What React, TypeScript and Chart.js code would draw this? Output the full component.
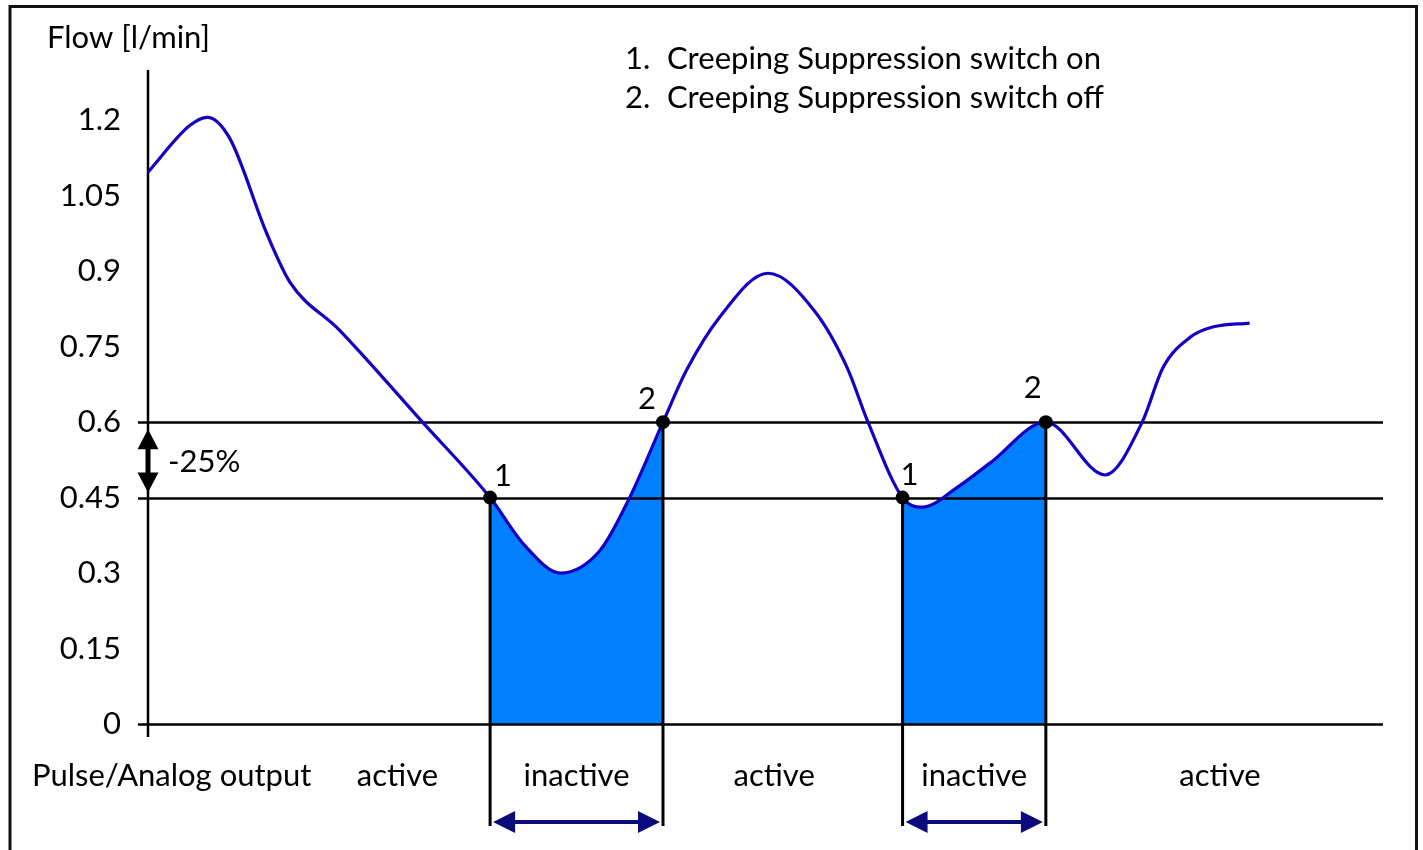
import React, { useEffect, useRef } from 'react';
import { Chart, registerables } from 'chart.js';

Chart.register(...registerables);

// ---- data ----
const timeValues = [0, 3.4, 4.8, 6.6, 9.6, 11.5, 15.5, 22.3, 27.7, 30.5, 33.4, 36.6, 38.9, 41.7, 43.6, 46.3, 50.2, 54.0, 56.6, 58.3, 61.1, 62.7, 65.5, 68.2, 72.7, 77.5, 80.5, 82.2, 84.4, 86.2, 89.2];
const flowValues = [1.097, 1.19, 1.206, 1.165, 0.976, 0.878, 0.783, 0.598, 0.45, 0.355, 0.3, 0.345, 0.445, 0.6, 0.703, 0.809, 0.896, 0.82, 0.709, 0.6, 0.45, 0.431, 0.47, 0.519, 0.6, 0.495, 0.6, 0.709, 0.769, 0.789, 0.797];
const yTickValues = [0, 0.15, 0.3, 0.45, 0.6, 0.75, 0.9, 1.05, 1.2];
const yTickLabels = ['0', '0.15', '0.3', '0.45', '0.6', '0.75', '0.9', '1.05', '1.2'];
const switchOnTimes = [27.7, 61.1];
const switchOffTimes = [41.7, 72.7];
const switchOnLevel = 0.45;
const switchOffLevel = 0.6;
const outputStateLabels = ['active', 'inactive', 'active', 'inactive', 'active'];
const outputStateTimes = [20.2, 34.7, 50.7, 66.9, 86.8];
const legendLines = ['Creeping Suppression switch on', 'Creeping Suppression switch off'];
const yAxisTitle = 'Flow [l/min]';
const outputTitle = 'Pulse/Analog output';
const hysteresisLabel = '-25%';

const FONT = 'Lato, "Open Sans", sans-serif';
const LINE_COLOR = '#1500c4';
const FILL_COLOR = '#0080ff';
const ARROW_COLOR = '#0b0b7c';

function drawDoubleArrow(ctx: CanvasRenderingContext2D, x1: number, y1: number, x2: number, y2: number, head: number, half: number, shaft: number, color: string) {
  const ang = Math.atan2(y2 - y1, x2 - x1);
  const len = Math.hypot(x2 - x1, y2 - y1);
  ctx.save();
  ctx.translate(x1, y1);
  ctx.rotate(ang);
  ctx.fillStyle = color;
  ctx.fillRect(head - 1, -shaft / 2, len - 2 * head + 2, shaft);
  ctx.beginPath();
  ctx.moveTo(0, 0);
  ctx.lineTo(head, -half);
  ctx.lineTo(head, half);
  ctx.closePath();
  ctx.fill();
  ctx.beginPath();
  ctx.moveTo(len, 0);
  ctx.lineTo(len - head, -half);
  ctx.lineTo(len - head, half);
  ctx.closePath();
  ctx.fill();
  ctx.restore();
}

const overlayPlugin = {
  id: 'overlay',
  beforeDraw(chart: any) {
    const ctx = chart.ctx as CanvasRenderingContext2D;
    ctx.save();
    ctx.fillStyle = '#ffffff';
    ctx.fillRect(0, 0, chart.width, chart.height);
    ctx.strokeStyle = '#111';
    ctx.lineWidth = 3;
    ctx.strokeRect(10, 6.5, 1406.5, 900);
    ctx.restore();
  },
  beforeDatasetsDraw(chart: any) {
    const ctx = chart.ctx as CanvasRenderingContext2D;
    const area = chart.chartArea;
    const ys = chart.scales.y;
    ctx.save();
    ctx.strokeStyle = '#000';
    ctx.lineWidth = 2.5;
    [0, switchOnLevel, switchOffLevel].forEach((v) => {
      const py = Math.round(ys.getPixelForValue(v)) + 0.5;
      ctx.beginPath();
      ctx.moveTo(area.left - 10, py);
      ctx.lineTo(area.right, py);
      ctx.stroke();
    });
    ctx.beginPath();
    ctx.moveTo(area.left, area.top);
    ctx.lineTo(area.left, area.bottom + 13);
    ctx.stroke();
    ctx.restore();
  },
  afterDatasetsDraw(chart: any) {
    const ctx = chart.ctx as CanvasRenderingContext2D;
    const area = chart.chartArea;
    const xs = chart.scales.x;
    const ys = chart.scales.y;
    const yOn = ys.getPixelForValue(switchOnLevel);
    const yOff = ys.getPixelForValue(switchOffLevel);
    const bottomY = area.bottom + 102;
    const arrowY = area.bottom + 98;
    ctx.save();
    ctx.strokeStyle = '#000';
    ctx.lineWidth = 3;
    const pairs = switchOnTimes.map((t, i) => [xs.getPixelForValue(t), xs.getPixelForValue(switchOffTimes[i])]);
    pairs.forEach(([a, b]) => {
      ctx.beginPath();
      ctx.moveTo(a, yOn);
      ctx.lineTo(a, bottomY);
      ctx.moveTo(b, yOff);
      ctx.lineTo(b, bottomY);
      ctx.stroke();
    });
    ctx.fillStyle = '#000';
    pairs.forEach(([a, b]) => {
      ctx.beginPath();
      ctx.arc(a, yOn, 7, 0, Math.PI * 2);
      ctx.fill();
      ctx.beginPath();
      ctx.arc(b, yOff, 7, 0, Math.PI * 2);
      ctx.fill();
    });
    ctx.font = `31px ${FONT}`;
    ctx.textAlign = 'center';
    ctx.textBaseline = 'middle';
    const onOffsets = [[13, -22], [7, -23]];
    const offOffsets = [[-16, -23], [-13, -34]];
    pairs.forEach(([a, b], i) => {
      ctx.fillText('1', a + onOffsets[i][0], yOn + onOffsets[i][1]);
      ctx.fillText('2', b + offOffsets[i][0], yOff + offOffsets[i][1]);
    });
    pairs.forEach(([a, b]) => {
      drawDoubleArrow(ctx, a + 3, arrowY, b - 3, arrowY, 22, 11, 4, ARROW_COLOR);
    });
    drawDoubleArrow(ctx, area.left, yOff + 7, area.left, yOn - 5, 20, 10.5, 5, '#000');
    ctx.fillStyle = '#000';
    ctx.textAlign = 'left';
    ctx.fillText(hysteresisLabel, area.left + 20, (yOn + yOff) / 2 + 2);
    const labelY = area.bottom + 52;
    ctx.fillText(outputTitle, 32, labelY);
    ctx.textAlign = 'center';
    outputStateLabels.forEach((lab, i) => {
      ctx.fillText(lab, xs.getPixelForValue(outputStateTimes[i]), labelY);
    });
    ctx.textAlign = 'left';
    ctx.fillText(yAxisTitle, 47, 38);
    legendLines.forEach((line, i) => {
      const y = 59 + i * 39;
      ctx.fillText(`${i + 1}.`, 625, y);
      ctx.fillText(line, 667, y);
    });
    ctx.restore();
  },
};

export default function App() {
  const canvasRef = useRef<HTMLCanvasElement | null>(null);

  useEffect(() => {
    const canvas = canvasRef.current;
    if (!canvas) return;
    const points = timeValues.map((t, i) => ({ x: t, y: flowValues[i] }));
    const chart = new Chart(canvas, {
      type: 'line',
      data: {
        datasets: [
          {
            data: points,
            borderColor: LINE_COLOR,
            borderWidth: 3.2,
            pointRadius: 0,
            cubicInterpolationMode: 'monotone',
            fill: 'origin',
            backgroundColor: (c: any) => {
              const ch = c.chart;
              const area = ch.chartArea;
              if (!area) return 'rgba(0,0,0,0)';
              const xs = ch.scales.x;
              const w = area.right - area.left;
              const f = (v: number) => Math.min(1, Math.max(0, (xs.getPixelForValue(v) - area.left) / w));
              const g = ch.ctx.createLinearGradient(area.left, 0, area.right, 0);
              const clear = 'rgba(0,128,255,0)';
              g.addColorStop(0, clear);
              switchOnTimes.forEach((t, i) => {
                g.addColorStop(f(t), clear);
                g.addColorStop(f(t), FILL_COLOR);
                g.addColorStop(f(switchOffTimes[i]), FILL_COLOR);
                g.addColorStop(f(switchOffTimes[i]), clear);
              });
              g.addColorStop(1, clear);
              return g;
            },
          } as any,
        ],
      },
      options: {
        animation: false,
        responsive: false,
        devicePixelRatio: 1,
        layout: { padding: { top: 70, right: 40, bottom: 126, left: 0 } },
        plugins: {
          legend: { display: false },
          tooltip: { enabled: false },
          filler: { drawTime: 'beforeDatasetsDraw' },
        } as any,
        scales: {
          x: { type: 'linear', min: 0, max: 100, display: false },
          y: {
            type: 'linear',
            min: 0,
            max: 1.3,
            grid: { display: false },
            border: { display: false },
            afterFit: (s: any) => {
              s.width = 148;
            },
            afterBuildTicks: (s: any) => {
              s.ticks = yTickValues.map((v) => ({ value: v }));
            },
            ticks: {
              padding: 19,
              color: '#000',
              font: { family: FONT, size: 31 },
              callback: (v: any) => {
                const i = yTickValues.findIndex((t) => Math.abs(t - Number(v)) < 1e-9);
                return i >= 0 ? yTickLabels[i] : '';
              },
            },
          },
        },
      },
      plugins: [overlayPlugin],
    });
    return () => chart.destroy();
  }, []);

  return (
    <div style={{ position: 'absolute', left: 0, top: 0, width: 1423, height: 850, background: '#fff' }}>
      <canvas ref={canvasRef} width={1423} height={850} style={{ display: 'block', width: 1423, height: 850 }} />
    </div>
  );
}
